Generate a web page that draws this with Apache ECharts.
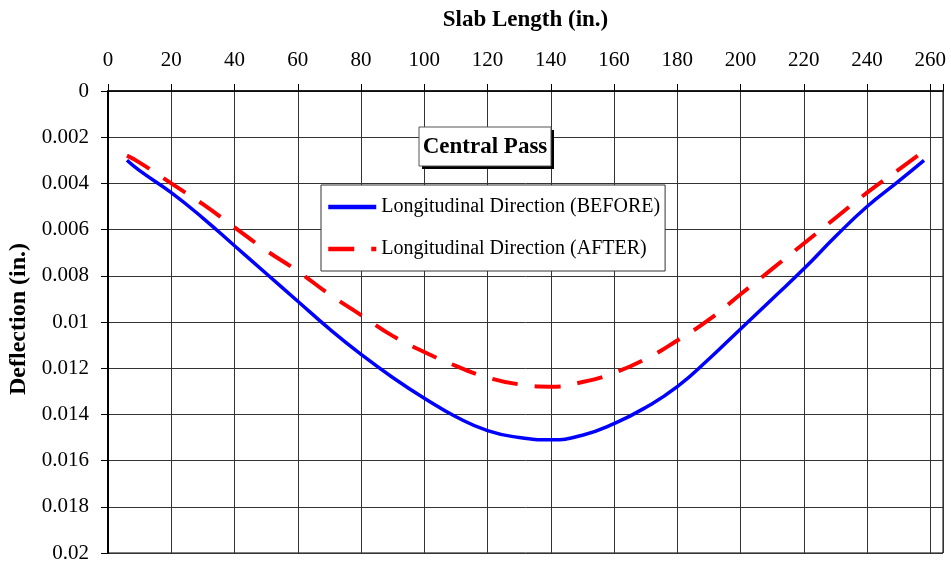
<!DOCTYPE html>
<html>
<head>
<meta charset="utf-8">
<script src="https://cdn.jsdelivr.net/npm/echarts@6/dist/echarts.min.js"></script>
<style>html,body{margin:0;padding:0;background:#fff}#c{width:951px;height:564px}</style>
</head>
<body>
<div id="c"></div>
<script>
const xBefore = [6, 10, 20, 30, 40, 50, 60, 70, 80, 90, 100, 110, 120, 130, 140, 150, 160, 170, 180, 190, 200, 210, 220, 230, 240, 250, 258];
const beforeValues = [0.0030, 0.00345, 0.0044, 0.0055, 0.0067, 0.0079, 0.0091, 0.0103, 0.0114, 0.0124, 0.0133, 0.0141, 0.0147, 0.0150, 0.0151, 0.0149, 0.0144, 0.0137, 0.0128, 0.0116, 0.0103, 0.0090, 0.0077, 0.0063, 0.0050, 0.0039, 0.0030];
const xAfter = [6, 10, 20, 30, 40, 50, 60, 70, 80, 90, 100, 110, 120, 130, 140, 150, 160, 170, 180, 190, 200, 210, 220, 230, 240, 250, 256];
const afterValues = [0.0028, 0.0031, 0.0040, 0.0049, 0.0059, 0.0069, 0.0078, 0.0088, 0.0097, 0.0106, 0.0113, 0.0119, 0.0124, 0.0127, 0.0128, 0.0126, 0.0122, 0.0116, 0.0108, 0.0099, 0.0088, 0.0077, 0.0066, 0.0055, 0.0044, 0.0034, 0.0028];
const seriesNames = ['Longitudinal Direction (BEFORE)', 'Longitudinal Direction (AFTER)'];
const xAxisTitle = 'Slab Length (in.)';
const yAxisTitle = 'Deflection (in.)';
const boxTitle = 'Central Pass';

const FONT = '"Liberation Serif", "Times New Roman", serif';
const chart = echarts.init(document.getElementById('c'), null, {renderer: 'canvas'});
chart.setOption({
  animation: false,
  backgroundColor: '#fff',
  textStyle: {fontFamily: FONT, color: '#000'},
  grid: {left: 108, right: 8, top: 91, bottom: 11, containLabel: false, outerBoundsMode: 'none',
    show: true, borderColor: '#000', borderWidth: 1, backgroundColor: 'transparent'},
  xAxis: {
    type: 'value', position: 'top', min: 0, max: 264, interval: 20,
    name: xAxisTitle, nameLocation: 'middle', nameGap: 59,
    nameTextStyle: {fontFamily: FONT, fontWeight: 'bold', fontSize: 23, color: '#000'},
    axisLine: {show: true, lineStyle: {color: '#000', width: 1.5}},
    axisTick: {show: true, inside: false, length: 7, lineStyle: {color: '#000'}},
    axisLabel: {fontFamily: FONT, fontSize: 21, color: '#000', margin: 20,
      formatter: v => (v % 20 === 0 ? String(v) : '')},
    splitLine: {show: true, lineStyle: {color: '#333', width: 1}}
  },
  yAxis: {
    type: 'value', inverse: true, min: 0, max: 0.02, interval: 0.002,
    name: yAxisTitle, nameLocation: 'middle', nameGap: 73, nameRotate: 90,
    nameTextStyle: {fontFamily: FONT, fontWeight: 'bold', fontSize: 24, color: '#000', padding: [0, 0, 0, 6]},
    axisLine: {show: true, lineStyle: {color: '#000', width: 2}},
    axisTick: {show: true, inside: false, length: 7, lineStyle: {color: '#000'}},
    axisLabel: {fontFamily: FONT, fontSize: 21, color: '#000', margin: 19},
    splitLine: {show: true, lineStyle: {color: '#333', width: 1}}
  },
  legend: {
    orient: 'vertical', left: 321, top: 185,
    backgroundColor: '#fff', borderColor: '#333', borderWidth: 1,
    padding: [12, 5, 12, 5], itemGap: 22, itemWidth: 48, itemHeight: 14,
    textStyle: {fontFamily: FONT, fontSize: 20, color: '#000'},
    itemStyle: {opacity: 0},
    lineStyle: {width: 4.5},
    data: seriesNames,
    selectedMode: false
  },
  series: [
    {
      name: seriesNames[0], type: 'line', smooth: true, showSymbol: false, symbol: 'none',
      data: xBefore.map((x, i) => [x, beforeValues[i]]),
      lineStyle: {color: '#0000ff', width: 3.5}, itemStyle: {color: '#0000ff'}, z: 3
    },
    {
      name: seriesNames[1], type: 'line', smooth: true, showSymbol: false, symbol: 'none',
      data: xAfter.map((x, i) => [x, afterValues[i]]),
      lineStyle: {color: '#ff0000', width: 4, type: [26, 17], cap: 'butt'}, itemStyle: {color: '#ff0000'}, z: 4
    }
  ],
  graphic: [
    {type: 'rect', shape: {x: 422, y: 130, width: 132, height: 39}, style: {fill: '#000'}, z: 100},
    {type: 'rect', shape: {x: 419, y: 127, width: 132, height: 39}, style: {fill: '#fff', stroke: '#555', lineWidth: 1}, z: 101},
    {type: 'text', x: 485, y: 147, style: {text: boxTitle, font: 'bold 23px ' + FONT, fill: '#000', align: 'center', verticalAlign: 'middle'}, z: 102}
  ]
});
</script>
</body>
</html>
